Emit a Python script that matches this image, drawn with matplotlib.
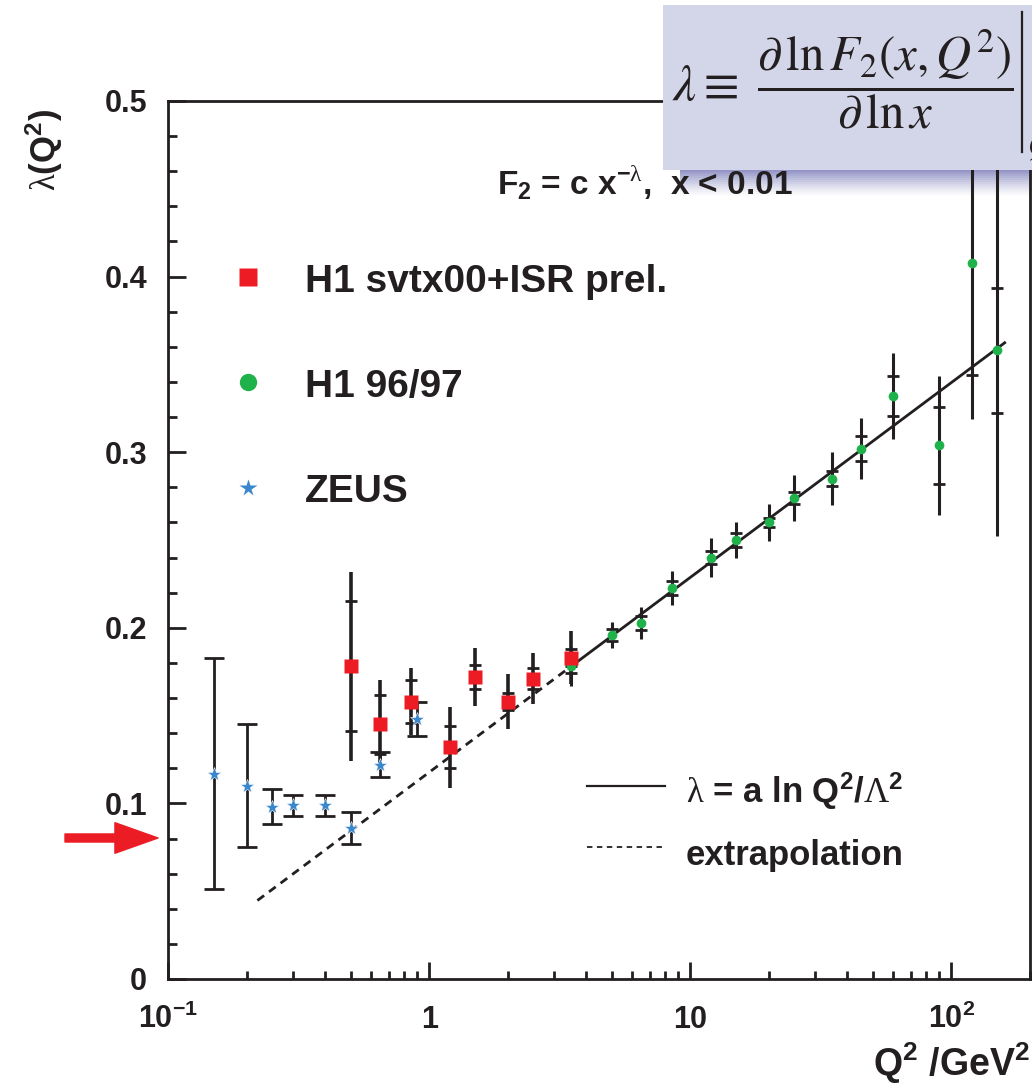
import numpy as np
import matplotlib
matplotlib.use("Agg")
import matplotlib.pyplot as plt
from matplotlib.patches import Rectangle
from matplotlib.lines import Line2D
from matplotlib.ticker import MultipleLocator, LogLocator, NullFormatter
from matplotlib.transforms import blended_transform_factory

plt.rcParams['font.family'] = ['Liberation Sans', 'DejaVu Sans']
plt.rcParams['mathtext.fontset'] = 'custom'
plt.rcParams['mathtext.rm'] = 'Liberation Sans:bold'
plt.rcParams['mathtext.it'] = 'Liberation Sans:bold'
plt.rcParams['mathtext.bf'] = 'Liberation Sans:bold'
plt.rcParams['mathtext.sf'] = 'Liberation Serif'

# ZEUS
zeus_q2 = [0.15, 0.2, 0.25, 0.3, 0.4, 0.5, 0.65, 0.9]
zeus_lam = [0.117, 0.110, 0.098, 0.099, 0.099, 0.086, 0.122, 0.148]
zeus_err = [0.066, 0.035, 0.010, 0.006, 0.006, 0.009, 0.007, 0.0095]

# H1 svtx00+ISR prel.
svtx_q2 = [0.5, 0.65, 0.85, 1.2, 1.5, 2.0, 2.5, 3.5]
svtx_lam = [0.178, 0.145, 0.158, 0.132, 0.172, 0.158, 0.171, 0.183]
svtx_tot = [0.054, 0.025, 0.019, 0.023, 0.0165, 0.0155, 0.0145, 0.015]
svtx_stat = [0.037, 0.017, 0.012, 0.012, 0.007, 0.005, 0.006, 0.005]

# H1 96/97
h1_q2 = [3.5, 5.0, 6.5, 8.5, 12, 15, 20, 25, 35, 45, 60, 90, 120, 150]
h1_lam = [0.178, 0.196, 0.2027, 0.2227, 0.240, 0.250, 0.260, 0.274, 0.285,
          0.302, 0.332, 0.304, 0.408, 0.358]
h1_tot = [0.011, 0.0075, 0.009, 0.0095, 0.011, 0.010, 0.0103, 0.0133, 0.015,
          0.0173, 0.0243, 0.0395, 0.089, 0.106]
h1_stat = [0.004, 0.0035, 0.004, 0.004, 0.0037, 0.004, 0.0028, 0.0035, 0.0042,
           0.0072, 0.0112, 0.022, 0.064, 0.0355]

# fit lambda = a ln(Q2/Lambda2)
fit_a = 0.0482
fit_lam2 = 0.087
fit_solid = [3.5, 160]
fit_dashed = [0.22, 3.5]

xtick_vals = [0.1, 1, 10, 100]
xtick_text = [r'$10^{-1}$', '1', '10', r'$10^{2}$']
ytick_vals = [0, 0.1, 0.2, 0.3, 0.4, 0.5]
ytick_text = ['0', '0.1', '0.2', '0.3', '0.4', '0.5']

red = '#ED1C24'
green = '#1FB14A'
blue = '#3B87CC'
ink = '#231F20'

W, H = 1032, 1086
fig = plt.figure(figsize=(W / 100, H / 100), dpi=100)
ax = fig.add_axes([168 / W, 1 - 979 / H, (1030 - 168) / W, (979 - 101) / H])
ax.set_xscale('log')
ax.set_xlim(0.1, 200)
ax.set_ylim(0, 0.5)

for s in ax.spines.values():
    s.set_linewidth(2)
    s.set_color(ink)

ax.set_xticks(xtick_vals)
ax.set_xticklabels([])
ax.xaxis.set_minor_locator(LogLocator(base=10, subs=np.arange(2, 10)))
ax.xaxis.set_minor_formatter(NullFormatter())
ax.set_yticks(ytick_vals)
ax.set_yticklabels(ytick_text, fontweight='bold')
ax.yaxis.set_minor_locator(MultipleLocator(0.02))
ax.tick_params(which='both', direction='in', width=2, top=False, right=False, color=ink)
ax.tick_params(axis='x', which='major', length=12.5)
ax.tick_params(axis='x', which='minor', length=6)
ax.tick_params(axis='y', which='major', length=13, labelsize=22, pad=15, labelcolor=ink)
ax.tick_params(axis='y', which='minor', length=6.5)

trans = blended_transform_factory(ax.transData, ax.transAxes)
for v, s in zip(xtick_vals, xtick_text):
    ax.text(v, -0.0558, s, transform=trans, ha='center', va='baseline', fontsize=22,
            fontweight='bold', color=ink)

# fit line
def fit(q):
    q = np.array(q, dtype=float)
    return fit_a * np.log(q / fit_lam2)

ax.plot(fit_solid, fit(fit_solid), color=ink, lw=2, zorder=2)
ax.plot(fit_dashed, fit(fit_dashed), color=ink, lw=2, ls=(0, (3, 2.2)), zorder=2)

# error bars
ax.errorbar(zeus_q2, zeus_lam, yerr=zeus_err, fmt='none', ecolor=ink,
            elinewidth=2, capsize=7, capthick=2, zorder=3)
ax.errorbar(h1_q2, h1_lam, yerr=h1_tot, fmt='none', ecolor=ink,
            elinewidth=2.2, capsize=0, zorder=3)
ax.errorbar(svtx_q2, svtx_lam, yerr=svtx_tot, fmt='none', ecolor=ink,
            elinewidth=2.6, capsize=0, zorder=3)
for q, l, st in [(h1_q2, h1_lam, h1_stat), (svtx_q2, svtx_lam, svtx_stat)]:
    q = np.array(q)
    l = np.array(l)
    st = np.array(st)
    ax.plot(np.r_[q, q], np.r_[l + st, l - st], ls='none', marker='_', ms=8,
            mew=2, color=ink, zorder=3)

ax.plot(h1_q2, h1_lam, 'o', color=green, ms=7, mec='none', zorder=4)
ax.plot(svtx_q2, svtx_lam, 's', color=red, ms=10, mec='none', zorder=5)
ax.plot(zeus_q2, zeus_lam, '*', color=blue, ms=10.5, mec='white', mew=0.4, zorder=5)

# legend
ax.plot([0.0928], [0.7995], 's', color=red, ms=12.5, mec='none', transform=ax.transAxes, clip_on=False)
ax.plot([0.0928], [0.680], 'o', color=green, ms=12.5, mec='none', transform=ax.transAxes, clip_on=False)
ax.plot([0.0928], [0.5592], '*', color=blue, ms=13, mec='none', transform=ax.transAxes, clip_on=False)
for ypos, lab in [(0.7825, 'H1 svtx00+ISR prel.'), (0.6629, 'H1 96/97'), (0.5433, 'ZEUS')]:
    ax.text(0.159, ypos, lab, transform=ax.transAxes, fontsize=28, va='baseline',
            fontweight='bold', color=ink)

ax.plot([0.486, 0.5766], [0.2198, 0.2198], color=ink, lw=1.6, transform=ax.transAxes)
ax.plot([0.486, 0.5766], [0.1503, 0.1503], color=ink, lw=1.3, ls=(0, (3, 2.5)),
        transform=ax.transAxes)
ax.text(0.601, 0.2005, r'$\mathsf{λ}$ = a ln Q$^2$/$\mathsf{Λ}^2$', transform=ax.transAxes,
        fontsize=25, va='baseline', fontweight='bold', color=ink)
ax.text(0.601, 0.1298, 'extrapolation', transform=ax.transAxes, fontsize=25, va='baseline',
        fontweight='bold', color=ink)

ax.text((497 - 168) / 862, (979 - 195) / 878, r'F$_2$ = c x$^{-\mathsf{λ}}$,  x < 0.01',
        transform=ax.transAxes, fontsize=24, va='baseline', zorder=3,
        fontweight='bold', color=ink)

# shadow under the formula box
n = 14
for i in range(n):
    y_top = 168 + i * 2
    alpha = 0.95 * (1 - i / n) ** 1.3
    ax.add_patch(Rectangle((680 / W, 1 - (y_top + 2) / H), (W - 680) / W, 2 / H,
                           transform=fig.transFigure, facecolor='#8486BE',
                           edgecolor='none', alpha=alpha, zorder=0.5, clip_on=False))

# formula box
fig.add_artist(Rectangle((663 / W, 1 - 170 / H), (W - 663) / W + 0.01, 165 / H,
                         transform=fig.transFigure, facecolor='#D3D5E8',
                         edgecolor='none', zorder=10))
fig.text(672 / W, 1 - 100 / H, r'$\lambda \equiv$', math_fontfamily='stix', fontsize=37,
         va='baseline', ha='left', zorder=11, color=ink)
fig.text(885 / W, 1 - 79 / H,
         r'$\dfrac{\partial\, \ln F_2(x,Q^2)}{\partial\, \ln x}$',
         math_fontfamily='stix', fontsize=35, va='center', ha='center', zorder=11,
         color=ink)
fig.add_artist(Line2D([1022 / W, 1022 / W], [1 - 12 / H, 1 - 152 / H], transform=fig.transFigure,
                      color=ink, lw=1.6, zorder=11))
fig.text(1027 / W, 1 - 155 / H, r'$Q^2$', math_fontfamily='stix', fontsize=24,
         va='baseline', ha='left', zorder=11, color=ink)

# red arrow
ax.annotate('', xy=(158 / W, 0.0803), xytext=(65 / W, 0.0803),
            xycoords=('figure fraction', 'data'), textcoords=('figure fraction', 'data'),
            arrowprops=dict(arrowstyle='simple,head_length=3.1,head_width=2.2,tail_width=0.58',
                            mutation_scale=10, color='#EC1C24', shrinkA=0, shrinkB=0),
            annotation_clip=False)

# axis labels
fig.text(44 / W, 1 - 150 / H, r'$\mathsf{λ}$(Q$^2$)', rotation=90, ha='center', va='center',
         fontsize=25, fontweight='bold', color=ink)
fig.text(1030 / W, 1 - 1076 / H, r'Q$^2$ /GeV$^2$', ha='right', va='baseline', fontsize=27,
         fontweight='bold', color=ink)

fig.savefig('out.png', dpi=100)
